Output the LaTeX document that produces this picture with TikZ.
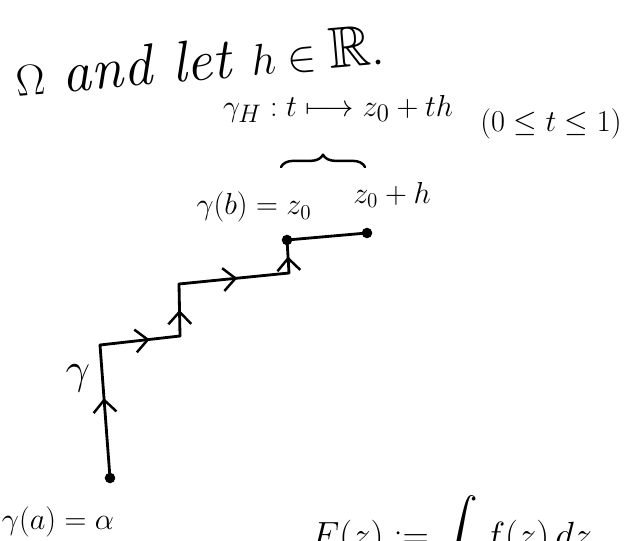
\documentclass[tikz,border=0pt]{standalone}
\usepackage{amsmath}
\usepackage{amssymb}
\usetikzlibrary{arrows.meta,decorations.markings,decorations.pathreplacing}

\tikzset{
  midarrow/.style={postaction={decorate},
    decoration={markings, mark=at position #1 with {\arrow{Straight Barb[length=7pt,width=13pt,line width=1.4pt]}}}},
  midarrow/.default=0.5,
  pt/.style={circle, fill, inner sep=0pt, minimum size=6pt},
  hand/.style={font=\fontsize{#1}{#1}\selectfont, inner sep=0pt},
}

\begin{document}
\begin{tikzpicture}[x=0.02cm, y=-0.02cm, line width=1.6pt, line cap=round, line join=round]
\useasboundingbox (0,0) rectangle (644,540);
\clip (0,0) rectangle (644,540);
% header line
\node[hand=33, rotate=5] (head) at (200,61) {$\Omega$ \textit{and let} $h\in\mathbb{R}$.};
\node[hand=19] (gH) at (338,109) {$\gamma_H : t \longmapsto z_0 + th$};
\node[hand=19] (range) at (551,124) {$(0\leq t\leq 1)$};
% staircase path from alpha to z_0, then segment to z_0+h
\coordinate (alpha) at (110,478);
\coordinate (c1) at (100,345);
\coordinate (c2) at (180,336);
\coordinate (c3) at (179,284);
\coordinate (c4) at (289,273);
\coordinate (zo) at (287,240);
\coordinate (zh) at (367,233);
\draw[midarrow=0.6] (alpha) -- (c1);
\draw[midarrow=0.62] (c1) -- (c2);
\draw[midarrow=0.5] (c2) -- (c3);
\draw[midarrow=0.53] (c3) -- (c4);
\draw[midarrow=0.5] (c4) -- (zo);
\draw (zo) -- (zh);
\node[pt] at (alpha) {};
\node[pt] at (zo) {};
\node[pt] at (zh) {};
% labels
\node[hand=17] (gb) at (254,207) {$\gamma(b)=z_0$};
\node[hand=17] (zoh) at (392,195) {$z_0+h$};
\draw[line width=1.4pt, decorate, decoration={brace, amplitude=7pt}] (281,167) -- (365,167);
\node[hand=24] (gam) at (78,378) {$\gamma$};
\node[hand=17] (ga) at (58,522) {$\gamma(a)=\alpha$};
\node[hand=22, anchor=north west] (fz) at (310,494) {$F(z) := \displaystyle\int f(z)\,dz$};
\end{tikzpicture}
\end{document}
